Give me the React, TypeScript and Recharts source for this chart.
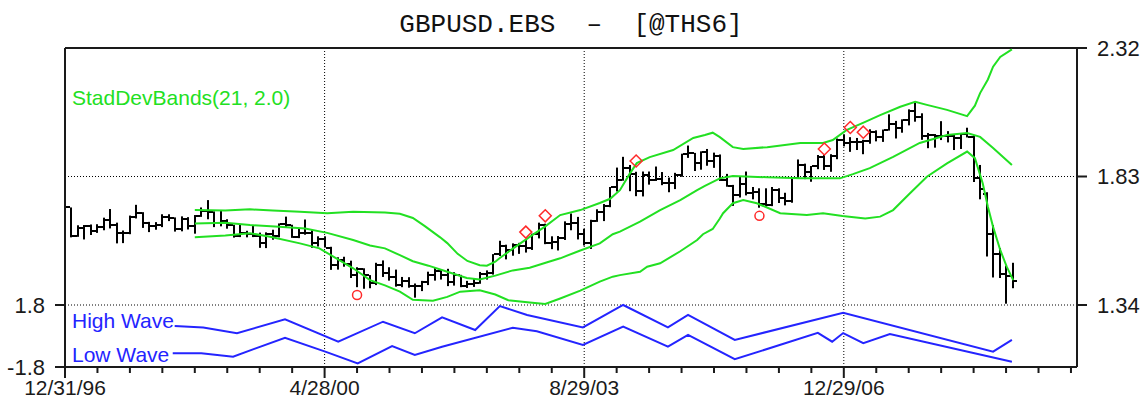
import React from "react";
import {
  ComposedChart,
  Bar,
  Line,
  Scatter,
  XAxis,
  YAxis,
  ReferenceLine,
  Customized,
} from "recharts";

// monthly bars, x = months since 12/31/96 (Dec 96 = 0)
const OPEN = [
  1.654, 1.712, 1.605, 1.632, 1.643, 1.623, 1.637, 1.663, 1.645, 1.614, 1.613, 1.675, 1.690,
  1.652, 1.640, 1.646, 1.676, 1.671, 1.631, 1.669, 1.642, 1.680, 1.700, 1.695, 1.652,
  1.661, 1.646, 1.602, 1.614, 1.609, 1.604, 1.578, 1.612, 1.604, 1.648, 1.645, 1.598,
  1.616, 1.615, 1.576, 1.593, 1.559, 1.493, 1.513, 1.497, 1.453, 1.476, 1.453, 1.423,
  1.493, 1.461, 1.446, 1.418, 1.432, 1.414, 1.411, 1.426, 1.456, 1.471, 1.454, 1.426,
  1.455, 1.414, 1.420, 1.425, 1.458, 1.462, 1.533, 1.566, 1.549, 1.569, 1.564, 1.556,
  1.610, 1.646, 1.577, 1.580, 1.596, 1.650, 1.652, 1.612, 1.577, 1.660, 1.695, 1.719,
  1.789, 1.817, 1.864, 1.841, 1.776, 1.834, 1.816, 1.821, 1.805, 1.807, 1.837, 1.914,
  1.919, 1.883, 1.923, 1.889, 1.910, 1.818, 1.792, 1.758, 1.802, 1.766, 1.770, 1.727,
  1.721, 1.779, 1.749, 1.737, 1.823, 1.872, 1.847, 1.869, 1.904, 1.871, 1.909, 1.968,
  1.958, 1.961, 1.961, 1.967, 1.998, 1.979, 2.006, 2.032, 2.015, 2.044, 2.080, 2.057,
  1.984, 1.988, 1.986, 1.985, 1.985, 1.978, 1.991, 1.981, 1.823, 1.765, 1.610, 1.535,
  1.460, 1.451,
];
const HIGH = [
  1.713, 1.712, 1.644, 1.645, 1.647, 1.648, 1.673, 1.706, 1.654, 1.624, 1.681, 1.722, 1.694,
  1.657, 1.656, 1.686, 1.686, 1.674, 1.678, 1.675, 1.683, 1.712, 1.740, 1.697, 1.699,
  1.667, 1.646, 1.646, 1.623, 1.645, 1.616, 1.617, 1.627, 1.651, 1.677, 1.646, 1.633,
  1.666, 1.625, 1.602, 1.602, 1.562, 1.522, 1.524, 1.509, 1.484, 1.480, 1.454, 1.501,
  1.510, 1.484, 1.475, 1.447, 1.446, 1.422, 1.432, 1.467, 1.484, 1.474, 1.478, 1.465,
  1.455, 1.432, 1.442, 1.466, 1.472, 1.534, 1.585, 1.570, 1.575, 1.577, 1.591, 1.612,
  1.654, 1.650, 1.602, 1.603, 1.659, 1.689, 1.676, 1.630, 1.665, 1.705, 1.725, 1.790,
  1.864, 1.905, 1.874, 1.848, 1.849, 1.849, 1.868, 1.847, 1.826, 1.844, 1.917, 1.948,
  1.920, 1.926, 1.935, 1.921, 1.914, 1.840, 1.798, 1.829, 1.849, 1.790, 1.785, 1.785,
  1.790, 1.785, 1.768, 1.826, 1.895, 1.879, 1.870, 1.912, 1.912, 1.915, 1.975, 1.991,
  1.980, 1.977, 1.970, 2.010, 2.006, 2.009, 2.067, 2.042, 2.048, 2.086, 2.116, 2.071,
  1.996, 1.992, 2.041, 2.003, 1.991, 1.996, 2.016, 1.988, 1.874, 1.770, 1.645, 1.557,
  1.490, 1.501,
];
const LOW = [
  1.645, 1.598, 1.600, 1.590, 1.607, 1.615, 1.625, 1.632, 1.575, 1.576, 1.610, 1.670, 1.634,
  1.618, 1.627, 1.637, 1.660, 1.620, 1.621, 1.628, 1.612, 1.676, 1.667, 1.637, 1.640,
  1.631, 1.597, 1.599, 1.598, 1.599, 1.558, 1.557, 1.589, 1.598, 1.635, 1.596, 1.595,
  1.608, 1.558, 1.563, 1.559, 1.474, 1.475, 1.486, 1.443, 1.408, 1.402, 1.404, 1.416,
  1.447, 1.433, 1.410, 1.408, 1.406, 1.368, 1.393, 1.416, 1.433, 1.437, 1.412, 1.414,
  1.408, 1.405, 1.409, 1.421, 1.437, 1.456, 1.527, 1.514, 1.528, 1.535, 1.540, 1.550,
  1.594, 1.572, 1.553, 1.548, 1.588, 1.625, 1.590, 1.567, 1.554, 1.657, 1.660, 1.713,
  1.773, 1.814, 1.774, 1.755, 1.754, 1.799, 1.813, 1.797, 1.770, 1.782, 1.829, 1.901,
  1.851, 1.856, 1.871, 1.863, 1.813, 1.791, 1.718, 1.750, 1.758, 1.743, 1.711, 1.715,
  1.717, 1.729, 1.720, 1.730, 1.822, 1.820, 1.810, 1.858, 1.855, 1.848, 1.896, 1.945,
  1.924, 1.931, 1.915, 1.955, 1.964, 1.962, 2.005, 1.975, 1.997, 2.025, 2.039, 1.970,
  1.938, 1.940, 1.969, 1.960, 1.931, 1.935, 1.979, 1.809, 1.743, 1.525, 1.445, 1.443,
  1.345, 1.404,
];
const CLOSE = [
  1.712, 1.605, 1.632, 1.643, 1.623, 1.637, 1.663, 1.645, 1.614, 1.613, 1.675, 1.690, 1.652,
  1.640, 1.646, 1.676, 1.671, 1.631, 1.669, 1.642, 1.680, 1.700, 1.695, 1.652, 1.661,
  1.646, 1.602, 1.614, 1.609, 1.604, 1.578, 1.612, 1.604, 1.648, 1.645, 1.598, 1.616,
  1.615, 1.576, 1.593, 1.559, 1.493, 1.513, 1.497, 1.453, 1.476, 1.453, 1.423, 1.493,
  1.461, 1.446, 1.418, 1.432, 1.414, 1.411, 1.426, 1.456, 1.471, 1.454, 1.426, 1.455,
  1.414, 1.420, 1.425, 1.458, 1.462, 1.533, 1.566, 1.549, 1.569, 1.564, 1.556, 1.610,
  1.646, 1.577, 1.580, 1.596, 1.650, 1.652, 1.612, 1.577, 1.660, 1.695, 1.719, 1.789,
  1.817, 1.864, 1.841, 1.776, 1.834, 1.816, 1.821, 1.805, 1.807, 1.837, 1.914, 1.919,
  1.883, 1.923, 1.889, 1.910, 1.818, 1.792, 1.758, 1.802, 1.766, 1.770, 1.727, 1.721,
  1.779, 1.749, 1.737, 1.823, 1.872, 1.847, 1.869, 1.904, 1.871, 1.909, 1.968, 1.958,
  1.961, 1.961, 1.967, 1.998, 1.979, 2.006, 2.032, 2.015, 2.044, 2.080, 2.057, 1.984,
  1.988, 1.986, 1.985, 1.985, 1.978, 1.991, 1.981, 1.823, 1.781, 1.610, 1.535, 1.460,
  1.450, 1.430,
];

// StadDevBands(21, 2.0): [month, price]
const UPPER_BAND = [
  [20.0, 1.702], [24.7, 1.700], [28.5, 1.705], [32.0, 1.700], [36.2, 1.696], [40.4, 1.690],
  [44.4, 1.696], [49.3, 1.693], [51.6, 1.688], [53.6, 1.672], [55.5, 1.640], [57.8, 1.598],
  [58.9, 1.576], [60.5, 1.535], [62.0, 1.508], [63.9, 1.492], [65.0, 1.490], [66.3, 1.505],
  [67.0, 1.519], [69.0, 1.555], [71.6, 1.600], [74.0, 1.640], [76.3, 1.683], [79.4, 1.702],
  [82.4, 1.729], [84.0, 1.745], [85.5, 1.778], [87.0, 1.840], [88.1, 1.881], [90.1, 1.904],
  [93.7, 1.931], [96.8, 1.977], [98.6, 1.988], [99.8, 1.997], [100.9, 1.980], [102.9, 1.942],
  [104.5, 1.935], [108.2, 1.942], [113.3, 1.958], [116.8, 1.958], [118.3, 1.969], [120.4, 2.007],
  [123.3, 2.038], [125.6, 2.064], [128.7, 2.096], [131.0, 2.115], [132.8, 2.103], [135.9, 2.084],
  [139.0, 2.060], [140.2, 2.100], [141.0, 2.148], [142.2, 2.200], [143.0, 2.249], [144.1, 2.286],
  [145.9, 2.315],
];
const MIDDLE_BAND = [
  [20.0, 1.651], [24.7, 1.654], [28.5, 1.645], [33.0, 1.638], [37.0, 1.632], [40.4, 1.615],
  [44.4, 1.588], [47.0, 1.567], [49.3, 1.556], [51.6, 1.530], [53.6, 1.507], [56.0, 1.490],
  [58.9, 1.467], [61.9, 1.443], [63.9, 1.437], [66.3, 1.452], [69.0, 1.472], [71.6, 1.482],
  [74.3, 1.503], [76.3, 1.518], [79.4, 1.548], [82.4, 1.575], [84.4, 1.610], [85.5, 1.620],
  [88.6, 1.658], [91.7, 1.702], [94.8, 1.740], [97.4, 1.778], [98.6, 1.794], [100.9, 1.823],
  [102.9, 1.832], [108.2, 1.827], [113.3, 1.823], [119.4, 1.823], [121.4, 1.839], [124.0, 1.862],
  [127.6, 1.905], [131.7, 1.958], [135.9, 1.988], [139.0, 1.996], [141.0, 1.981], [143.0, 1.939],
  [145.9, 1.874],
];
const LOWER_BAND = [
  [20.0, 1.598], [24.7, 1.605], [28.5, 1.614], [31.6, 1.600], [36.2, 1.575], [39.2, 1.556],
  [41.8, 1.518], [44.4, 1.480], [47.0, 1.435], [49.3, 1.415], [51.6, 1.391], [53.6, 1.360],
  [56.7, 1.356], [58.9, 1.371], [60.9, 1.391], [63.9, 1.396], [66.3, 1.380], [68.3, 1.358],
  [71.6, 1.350], [74.0, 1.344], [76.3, 1.365], [79.4, 1.395], [82.4, 1.429], [84.4, 1.448],
  [85.5, 1.454], [88.6, 1.467], [89.7, 1.486], [91.7, 1.499], [94.8, 1.545], [97.4, 1.588],
  [98.3, 1.610], [99.8, 1.630], [100.9, 1.670], [101.4, 1.690], [102.9, 1.728], [104.5, 1.740],
  [106.6, 1.728], [110.2, 1.690], [114.3, 1.683], [116.8, 1.690], [119.8, 1.679], [123.3, 1.670],
  [125.6, 1.677], [127.6, 1.702], [130.2, 1.766], [132.8, 1.829], [135.9, 1.880], [139.0, 1.925],
  [140.2, 1.900], [141.4, 1.804], [142.2, 1.715], [143.0, 1.638], [144.1, 1.550], [145.1, 1.486],
  [146.1, 1.435],
];

// wave pane: [month, value]
const HIGH_WAVE = [
  [16.9, 0.58], [21.3, 0.50], [26.5, 0.16], [33.9, 0.97], [42.1, -0.33], [49.0, 0.83],
  [53.9, 0.16], [58.1, 1.08], [63.2, 0.35], [67.0, 1.74], [71.2, 1.22], [79.8, 0.50],
  [86.0, 1.80], [92.9, 0.50], [96.0, 1.22], [103.2, -0.23], [119.9, 1.35], [143.0, -0.91],
  [145.9, -0.23],
];
const LOW_WAVE = [
  [16.6, -1.0], [21.0, -1.0], [25.9, -1.2], [33.9, -0.1], [40.1, -0.91], [45.1, -1.59],
  [50.4, -0.58], [53.9, -1.1], [58.1, -0.62], [69.0, 0.48], [72.7, 0.28], [79.8, -0.52],
  [86.0, 0.54], [92.9, -0.62], [96.0, 0.06], [103.2, -1.35], [116.0, 0.18], [118.2, -0.33],
  [119.9, 0.17], [123.0, -0.42], [127.1, 0.12], [145.9, -1.49],
];

const DIAMONDS = [[71, 1.618], [74, 1.68], [88, 1.889], [117, 1.935], [121, 2.017], [123, 1.999]];
const CIRCLES = [[45, 1.378], [107, 1.68]];

const X_TICKS = [
  0, 5, 10, 15, 20, 25, 30, 35, 40, 45, 50, 55, 60, 65, 70, 75, 80, 85, 90, 95, 100, 105,
  110, 115, 120, 125, 130, 135, 140, 145, 150, 155,
];
const DATE_TICKS = [0, 40, 80, 120];
const DATE_LABELS = ["12/31/96", "4/28/00", "8/29/03", "12/29/06"];
const PRICE_TICKS = [1.34, 1.83, 2.32];
const WAVE_TICKS = [-1.8, 1.8];

const bars = OPEN.map((o, i) => ({
  x: i,
  range: [LOW[i], HIGH[i]],
  open: o,
  close: CLOSE[i],
  high: HIGH[i],
  low: LOW[i],
}));
const toPts = (arr: number[][]) => arr.map(([x, v]) => ({ x, v }));

const GREEN = "#22e022";
const BLUE = "#2424ff";
const RED = "#ff2a2a";
const INK = "#1a1a1a";
const SANS = "'Liberation Sans', Arial, sans-serif";

const OhlcBar = (props: any) => {
  const { x, y, width, height, payload } = props;
  if (x == null || y == null) return null;
  const top = Math.min(y, y + height);
  const h = Math.abs(height);
  const span = payload.high - payload.low || 1;
  const py = (v: number) => top + ((payload.high - v) / span) * h;
  const c = Math.round(x + width / 2);
  const oy = Math.round(py(payload.open));
  const cy = Math.round(py(payload.close));
  return (
    <g fill="#000">
      <rect x={c - 1} y={top} width={2} height={Math.max(h, 1)} />
      <rect x={c - 4} y={oy - 1} width={3} height={2} />
      <rect x={c + 1} y={cy - 1} width={3} height={2} />
    </g>
  );
};

const DiamondShape = (p: any) => {
  const { cx, cy } = p;
  return (
    <polygon
      points={`${cx},${cy - 6} ${cx + 6},${cy} ${cx},${cy + 6} ${cx - 6},${cy}`}
      fill="none"
      stroke={RED}
      strokeWidth={1.5}
    />
  );
};

const CircleShape = (p: any) => (
  <circle cx={p.cx} cy={p.cy} r={4.5} fill="none" stroke={RED} strokeWidth={1.5} />
);

const DateTick = (props: any) => {
  const { x, y, payload } = props;
  const k = DATE_TICKS.indexOf(payload.value);
  return (
    <g>
      <line x1={x} x2={x} y1={y} y2={y + (k >= 0 ? 11 : 6)} stroke={INK} strokeWidth={2} />
      {k >= 0 && (
        <text x={x} y={y + 28} textAnchor="middle" fontFamily={SANS} fontSize={21} fill={INK}>
          {DATE_LABELS[k]}
        </text>
      )}
    </g>
  );
};

const Labels = () => (
  <g>
    <text
      x={571}
      y={32}
      textAnchor="middle"
      fontFamily="'Liberation Mono', 'Courier New', monospace"
      fontSize={26}
      fill="#111"
      style={{ whiteSpace: "pre" }}
    >
      {"GBPUSD.EBS  –  [@THS6]"}
    </text>
    <text x={72} y={105} fontFamily={SANS} fontSize={21} fill={GREEN}>
      StadDevBands(21, 2.0)
    </text>
    <text x={72} y={328} fontFamily={SANS} fontSize={21} fill={BLUE}>
      High Wave
    </text>
    <text x={72} y={362} fontFamily={SANS} fontSize={21} fill={BLUE}>
      Low Wave
    </text>
  </g>
);

export default function App() {
  const axisTick = { fontFamily: SANS, fontSize: 22, fill: INK };
  return (
    <div style={{ position: "absolute", left: 0, top: 0, background: "#fff" }}>
      <ComposedChart
        width={1142}
        height={401}
        data={bars}
        margin={{ top: 48, right: 5, bottom: 4, left: 8 }}
      >
        <XAxis
          dataKey="x"
          type="number"
          domain={[0, 155.93]}
          allowDataOverflow
          ticks={X_TICKS}
          interval={0}
          height={30}
          tickLine={false}
          tickSize={0}
          tickMargin={0}
          tick={<DateTick />}
          axisLine={{ stroke: INK, strokeWidth: 2 }}
        />
        <YAxis
          yAxisId="wave"
          orientation="left"
          type="number"
          domain={[-1.8, 16.723]}
          allowDataOverflow
          ticks={WAVE_TICKS}
          interval={0}
          width={57}
          tickSize={10}
          tickMargin={10}
          tick={axisTick}
          tickLine={{ stroke: INK, strokeWidth: 2 }}
          axisLine={{ stroke: INK, strokeWidth: 2 }}
        />
        <YAxis
          yAxisId="price"
          orientation="right"
          type="number"
          domain={[1.1036, 2.32]}
          allowDataOverflow
          ticks={PRICE_TICKS}
          interval={0}
          width={60}
          tickSize={10}
          tickMargin={10}
          tick={axisTick}
          tickLine={{ stroke: INK, strokeWidth: 2 }}
          axisLine={{ stroke: INK, strokeWidth: 2 }}
        />

        <ReferenceLine yAxisId="price" y={1.83} stroke="#000" strokeDasharray="1 2" />
        <ReferenceLine yAxisId="price" y={1.34} stroke="#000" strokeDasharray="1 2" />
        {DATE_TICKS.slice(1).map((t) => (
          <ReferenceLine key={t} yAxisId="price" x={t} stroke="#000" strokeDasharray="1 2" />
        ))}
        <ReferenceLine yAxisId="price" y={2.32} stroke={INK} strokeWidth={2} />

        <Bar
          yAxisId="price"
          dataKey="range"
          barSize={8}
          shape={<OhlcBar />}
          isAnimationActive={false}
        />
        <Line yAxisId="price" data={toPts(UPPER_BAND)} dataKey="v" stroke={GREEN} strokeWidth={2} dot={false} isAnimationActive={false} />
        <Line yAxisId="price" data={toPts(MIDDLE_BAND)} dataKey="v" stroke={GREEN} strokeWidth={2} dot={false} isAnimationActive={false} />
        <Line yAxisId="price" data={toPts(LOWER_BAND)} dataKey="v" stroke={GREEN} strokeWidth={2} dot={false} isAnimationActive={false} />

        <Line yAxisId="wave" data={toPts(HIGH_WAVE)} dataKey="v" stroke={BLUE} strokeWidth={2} dot={false} isAnimationActive={false} />
        <Line yAxisId="wave" data={toPts(LOW_WAVE)} dataKey="v" stroke={BLUE} strokeWidth={2} dot={false} isAnimationActive={false} />

        <Scatter yAxisId="price" data={toPts(DIAMONDS)} dataKey="v" shape={<DiamondShape />} isAnimationActive={false} />
        <Scatter yAxisId="price" data={toPts(CIRCLES)} dataKey="v" shape={<CircleShape />} isAnimationActive={false} />

        <Customized component={Labels} />
      </ComposedChart>
    </div>
  );
}
